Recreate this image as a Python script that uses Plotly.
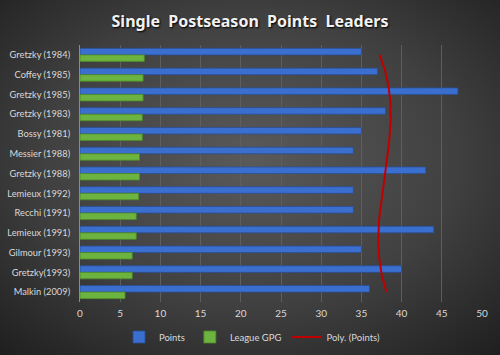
import base64
import numpy as np
import plotly.graph_objects as go

players = ["Gretzky (1984)", "Coffey (1985)", "Gretzky (1985)", "Gretzky (1983)",
           "Bossy (1981)", "Messier (1988)", "Gretzky (1988)", "Lemieux (1992)",
           "Recchi (1991)", "Lemieux (1991)", "Gilmour (1993)", "Gretzky(1993)",
           "Malkin (2009)"]
points = [35, 37, 47, 38, 35, 34, 43, 34, 34, 44, 35, 40, 36]
league_gpg = [8.0, 7.85, 7.85, 7.75, 7.75, 7.4, 7.4, 7.3, 7.0, 7.0, 6.5, 6.5, 5.6]
x_ticks = [0, 5, 10, 15, 20, 25, 30, 35, 40, 45, 50]

idx = np.arange(len(players))
# Excel-style polynomial trendline (order 3) on Points, fitted over category index
coef = np.polyfit(idx + 1, points, 3)
t = np.linspace(0, len(players) - 1, 200)
trend = np.polyval(coef, t + 1)

W, H = 500, 355
ml, mr, mt, mb = 80, 18, 45, 53
pw, ph = W - ml - mr, H - mt - mb

svg = f'''<svg xmlns="http://www.w3.org/2000/svg" width="{W}" height="{H}" viewBox="0 0 {W} {H}" preserveAspectRatio="none">
<defs><radialGradient id="g" cx="50%" cy="45%" r="75%">
<stop offset="0%" stop-color="#5a5a5a"/><stop offset="55%" stop-color="#404040"/><stop offset="100%" stop-color="#1e1e1e"/>
</radialGradient></defs><rect width="{W}" height="{H}" fill="url(#g)"/></svg>'''
src = "data:image/svg+xml;base64," + base64.b64encode(svg.encode()).decode()

FONT = "Lato, Noto Sans, sans-serif"

fig = go.Figure()
fig.add_trace(go.Bar(y=idx, x=points, orientation="h", name="Points",
                     marker=dict(color="#3b6fcf", line=dict(color="#2a4f95", width=0.8))))
fig.add_trace(go.Bar(y=idx, x=league_gpg, orientation="h", name="League GPG",
                     marker=dict(color="#6cb33f", line=dict(color="#4d8a2a", width=0.8))))
fig.add_trace(go.Scatter(y=t, x=trend, mode="lines", name="Poly. (Points)",
                         line=dict(color="#c00000", width=2)))

fig.update_layout(
    width=W, height=H,
    margin=dict(l=ml, r=mr, t=mt, b=mb, autoexpand=False),
    paper_bgcolor="#333333", plot_bgcolor="rgba(0,0,0,0)",
    barmode="group", bargap=0.34, bargroupgap=0.0,
    font=dict(family=FONT, size=10, color="#d9d9d9"),
    title=dict(text="<b>Single  Postseason  Points  Leaders</b>", x=0.5, xanchor="center",
               y=1 - 21 / H, yanchor="middle",
               font=dict(family="Noto Sans, sans-serif", size=16, color="#f2f2f2",
                         shadow="1px 1px 2px #000")),
    xaxis=dict(range=[0, 50], tickvals=x_ticks, showgrid=True, gridcolor="#5e5e5e",
               gridwidth=1, zeroline=False, showline=False, ticks="", automargin=False,
               ticklabelstandoff=4,
               tickfont=dict(family=FONT, size=10, color="#d9d9d9")),
    yaxis=dict(tickvals=list(idx), ticktext=players, range=[len(players) - 0.5, -0.5],
               showgrid=False, zeroline=False, showline=True, linecolor="#8c8c8c",
               linewidth=1, ticks="", ticklabelstandoff=7, automargin=False,
               tickfont=dict(family=FONT, size=9.3, color="#d9d9d9")),
    legend=dict(orientation="h", x=(252 - ml) / pw, xanchor="center",
                y=-(337 - (H - mb)) / ph, yanchor="middle",
                font=dict(family=FONT, size=9.5, color="#d9d9d9"), bgcolor="rgba(0,0,0,0)",
                traceorder="normal", itemwidth=30, tracegroupgap=0),
    images=[dict(source=src, xref="paper", yref="paper",
                 x=-ml / pw, y=1 + mt / ph, sizex=W / pw, sizey=H / ph,
                 xanchor="left", yanchor="top", sizing="stretch", layer="below")],
    showlegend=True,
)

fig.write_html("out.html")
